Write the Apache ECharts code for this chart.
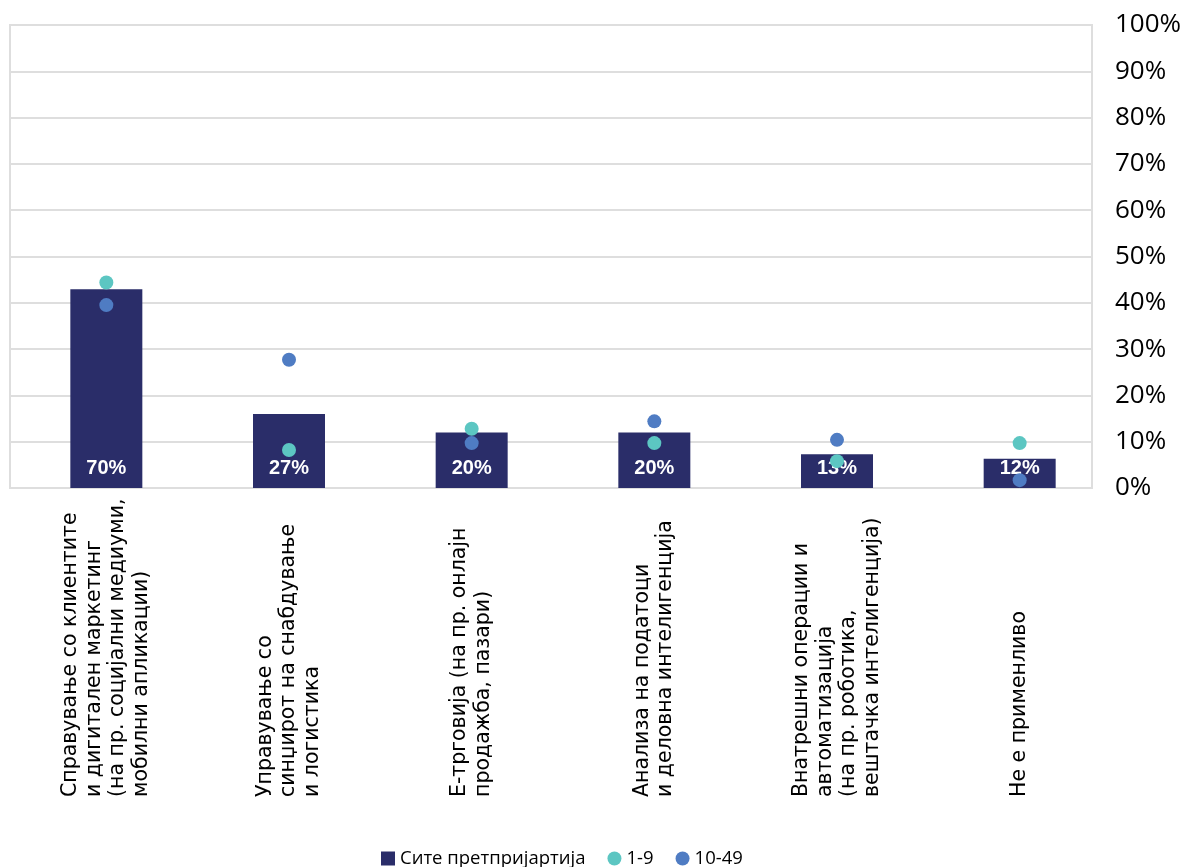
<!DOCTYPE html>
<html>
<head>
<meta charset="utf-8">
<script src="https://cdn.jsdelivr.net/npm/echarts@6/dist/echarts.min.js"></script>
<style>
html,body{margin:0;padding:0;background:#fff;}
#chart{width:1193px;height:867px;}
</style>
</head>
<body>
<div id="chart"></div>
<script>
const categories = [
  'Справување со клиентите\nи дигитален маркетинг\n(на пр. социјални медиуми,\nмобилни апликации)',
  'Управување со\nсинџирот на снабдување\nи логистика',
  'Е-трговија (на пр. онлајн\nпродажба, пазари)',
  'Анализа на податоци\nи деловна интелигенција',
  'Внатрешни операции и\nавтоматизација\n(на пр. роботика,\nвештачка интелигенција)',
  'Не е применливо'
];
const seriesNames = ['Сите претпријартија', '1-9', '10-49'];
const barValues = [42.9, 16.0, 12.0, 12.0, 7.3, 6.3];
const barLabels = ['70%', '27%', '20%', '20%', '13%', '12%'];
const small19 = [44.4, 8.2, 12.8, 9.7, 5.8, 9.7];
const small1049 = [39.5, 27.7, 9.7, 14.4, 10.4, 1.7];
const yTicks = [0, 10, 20, 30, 40, 50, 60, 70, 80, 90, 100];

const chart = echarts.init(document.getElementById('chart'), null, {renderer: 'canvas'});
chart.setOption({
  animation: false,
  backgroundColor: '#ffffff',
  grid: [
    {left: 10, top: 25, width: 1082, height: 463, show: true, borderColor: '#DEDEDE', borderWidth: 2, containLabel: false},
    {left: 15, top: 25, width: 1096, height: 463, show: false, containLabel: false}
  ],
  xAxis: [
    {gridIndex: 0, type: 'category', data: categories, show: false},
    {gridIndex: 1, type: 'category', data: categories,
     axisLine: {show: false}, axisTick: {show: false},
     axisLabel: {interval: 0, rotate: 90, align: 'left', verticalAlign: 'middle', margin: 309,
       fontFamily: 'DejaVu Sans', fontSize: 20.5, lineHeight: 23.5, color: '#000000'}}
  ],
  yAxis: [
    {gridIndex: 0, type: 'value', position: 'right', min: yTicks[0], max: yTicks[yTicks.length - 1], interval: 10,
     axisLine: {show: false}, axisTick: {show: false},
     splitLine: {show: true, lineStyle: {color: '#DEDEDE', width: 2}},
     axisLabel: {formatter: '{value}%', margin: 23, fontFamily: 'Open Sans', fontSize: 26, color: '#000000'}},
    {gridIndex: 1, type: 'value', min: 0, max: 100, show: false}
  ],
  legend: {
    left: 376, top: 844, itemWidth: 14, itemHeight: 14, itemGap: 22,
    textStyle: {fontFamily: 'Open Sans', fontSize: 18.5, color: '#000000'},
    data: [
      {name: seriesNames[0], icon: 'rect'},
      {name: seriesNames[1], icon: 'circle'},
      {name: seriesNames[2], icon: 'circle'}
    ]
  },
  series: [
    {name: seriesNames[0], type: 'bar', xAxisIndex: 1, yAxisIndex: 1, data: barValues, barWidth: 72,
     itemStyle: {color: '#2A2D69'},
     label: {show: true, position: 'insideBottom', distance: 10,
       formatter: p => barLabels[p.dataIndex],
       fontFamily: 'Liberation Sans', fontWeight: 'bold', fontSize: 20, color: '#ffffff'}},
    {name: seriesNames[1], type: 'scatter', xAxisIndex: 1, yAxisIndex: 1, data: small19, symbolSize: 14,
     itemStyle: {color: '#5CC6C2', opacity: 1}},
    {name: seriesNames[2], type: 'scatter', xAxisIndex: 1, yAxisIndex: 1, data: small1049, symbolSize: 14,
     itemStyle: {color: '#4F7CC3', opacity: 1}}
  ]
});
</script>
</body>
</html>
